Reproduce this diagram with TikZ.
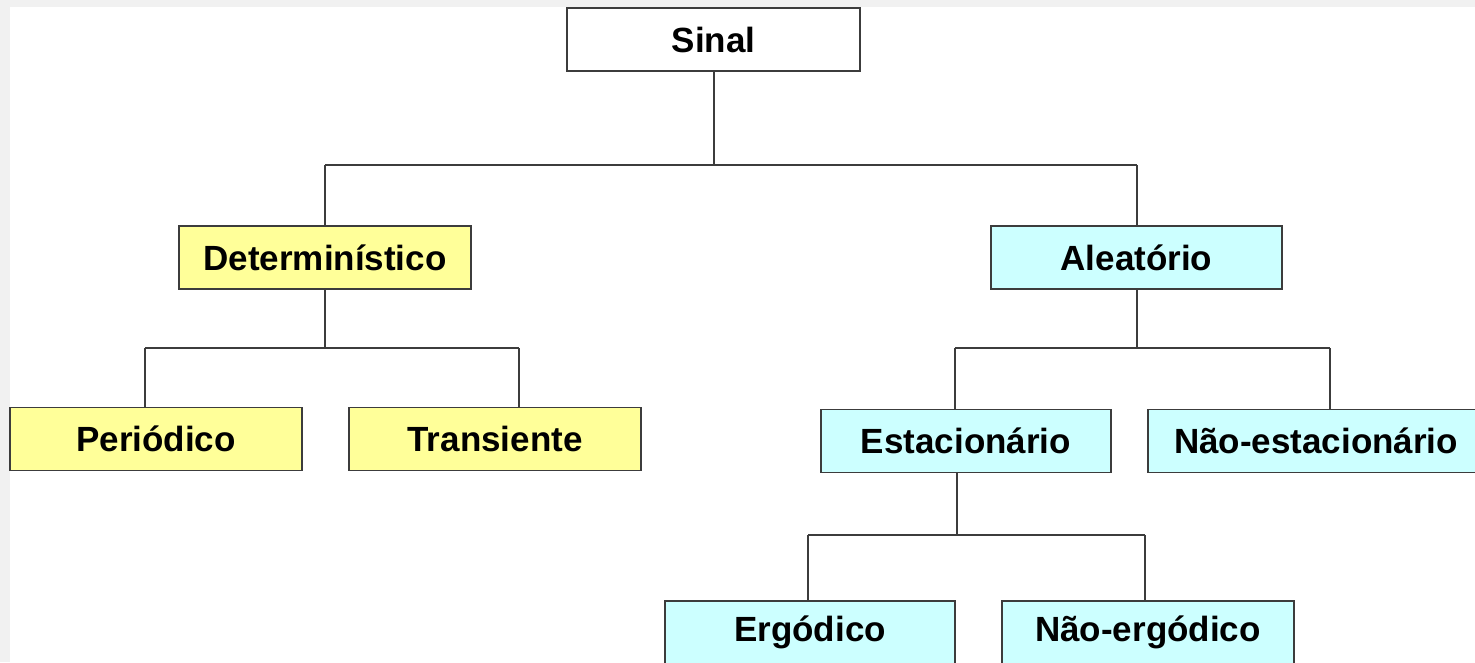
\documentclass[tikz,border=0pt]{standalone}
\usepackage{fontspec}
\setmainfont{Liberation Sans}
\definecolor{ylw}{HTML}{FFFF99}
\definecolor{cyn}{HTML}{CCFFFF}
\definecolor{bgg}{HTML}{F1F1F1}
\definecolor{edge}{HTML}{3C3C3C}
\begin{document}
\begin{tikzpicture}[x=1pt,y=-1pt,
  box/.style={draw=edge,line width=1.4pt,minimum height=63pt,inner sep=0pt,
    font=\fontsize{35}{40}\selectfont\bfseries},
  ybox/.style={box,fill=ylw},
  cbox/.style={box,fill=cyn},
  wbox/.style={box,fill=white},
  link/.style={draw=edge,line width=2pt}]
\useasboundingbox (0,0) rectangle (1475,662);
\fill[bgg] (0,0) rectangle (1475,662);
\fill[white] (10,7) rectangle (1475,662);
\begin{scope}
\clip (0,0) rectangle (1475,662);
\node[wbox,minimum width=293pt] (sinal) at (713.5,39.5) {\raisebox{-2pt}{Sinal}};
\node[ybox,minimum width=292pt] (det) at (325,257.5) {\raisebox{-1pt}{Determinístico}};
\node[cbox,minimum width=291pt] (ale) at (1136.5,257.5) {\raisebox{-1pt}{Aleatório}};
\node[ybox,minimum width=292pt] (per) at (156,439) {\raisebox{-1pt}{Periódico}};
\node[ybox,minimum width=292pt] (tra) at (495,439) {\raisebox{-1pt}{Transiente}};
\node[cbox,minimum width=290pt] (est) at (966,441) {\raisebox{-1pt}{Estacionário}};
\node[cbox,minimum width=336pt] (nest) at (1316,441) {\raisebox{-1pt}{Não-estacionário}};
\node[cbox,minimum width=290pt] (erg) at (810,632.5) {\raisebox{-3pt}{Ergódico}};
\node[cbox,minimum width=292pt] (nerg) at (1148,632.5) {\raisebox{-3pt}{Não-ergódico}};
\end{scope}
% connectors
\coordinate (j0) at (713.5,165);
\coordinate (j0l) at (325,165);
\coordinate (j0r) at (1136.5,165);
\draw[link] (sinal.south) -- (j0);
\draw[link] (j0l) -- (j0r);
\draw[link] (j0l) -- (det.north);
\draw[link] (j0r) -- (ale.north);
\coordinate (j1l) at (145,348);
\coordinate (j1r) at (519,348);
\draw[link] (det.south) -- (det.south |- j1l);
\draw[link] (j1l) -- (j1r);
\draw[link] (j1l) -- (j1l |- per.north);
\draw[link] (j1r) -- (j1r |- tra.north);
\coordinate (j2l) at (955,348);
\coordinate (j2r) at (1330,348);
\draw[link] (ale.south) -- (ale.south |- j2l);
\draw[link] (j2l) -- (j2r);
\draw[link] (j2l) -- (j2l |- est.north);
\draw[link] (j2r) -- (j2r |- nest.north);
\coordinate (e0) at (957,472.5);
\coordinate (j3l) at (808,535);
\coordinate (j3r) at (1145,535);
\draw[link] (e0) -- (e0 |- j3l);
\draw[link] (j3l) -- (j3r);
\draw[link] (j3l) -- (j3l |- erg.north);
\draw[link] (j3r) -- (j3r |- nerg.north);
\end{tikzpicture}
\end{document}
